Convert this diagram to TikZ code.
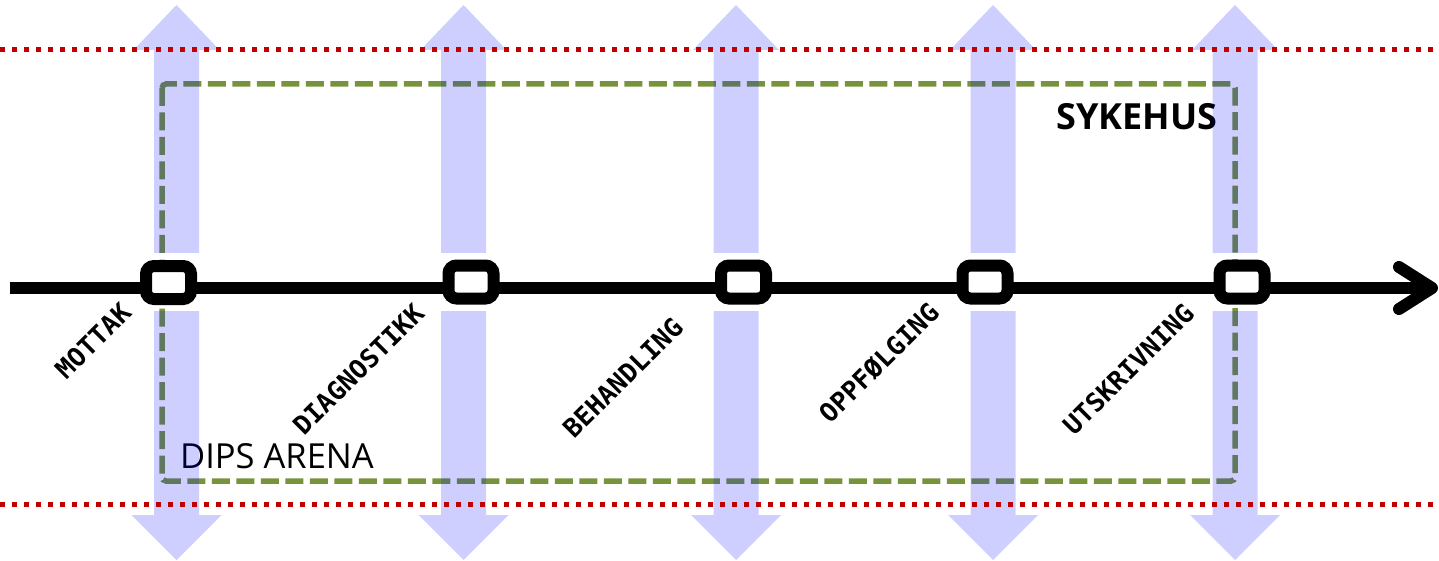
\documentclass[tikz,border=0pt]{standalone}
\usepackage{fontspec}
\newfontfamily\osans{Open Sans}
\newfontfamily\dmono{DejaVu Sans Mono}
\definecolor{dotred}{HTML}{C00000}
\definecolor{olivegreen}{HTML}{77933C}
\begin{document}
\begin{tikzpicture}[x=1pt,y=-1pt,
  redline/.style={draw=dotred, line width=5pt, dash pattern=on 5pt off 7pt},
  greenbox/.style={draw=olivegreen, line width=5.5pt, dash pattern=on 18pt off 6.5pt, rounded corners=4pt},
  bluearrow/.style={fill=blue, fill opacity=0.19, draw=none},
  timeline/.style={draw=black, line width=12pt},
  stepbox/.style={draw=black, line width=12pt, fill=white, rounded corners=8pt,
    minimum width=45pt, minimum height=33pt, inner sep=0pt},
  steplabel/.style={anchor=base east, rotate=45, inner sep=0pt,
    font=\dmono\bfseries\fontsize{26}{30}\selectfont},
  bigtext/.style={anchor=base west, inner sep=0pt, font=\osans\fontsize{34.5}{40}\selectfont},
  boldtext/.style={anchor=base west, inner sep=0pt, font=\osans\bfseries\fontsize{36}{42}\selectfont}
]
\useasboundingbox (0,0) rectangle (1439,561);

% green dashed frame (DIPS Arena)
\draw[greenbox] (162,84) rectangle (1235,481);

% texts
\node[boldtext] (sykehus) at (1056,130) {SYKEHUS};
\node[bigtext] (dips) at (180,468) {DIPS ARENA};

% blue double arrows
\foreach \cx in {176.5,463.5,736,993,1235}{
  \fill[bluearrow] (\cx-22.5,253) -- (\cx-22.5,50) -- (\cx-43,50) -- (\cx,5)
     -- (\cx+43,50) -- (\cx+22.5,50) -- (\cx+22.5,253) -- cycle;
  \fill[bluearrow] (\cx-22.5,311) -- (\cx-22.5,515) -- (\cx-45,515) -- (\cx,560)
     -- (\cx+45,515) -- (\cx+22.5,515) -- (\cx+22.5,311) -- cycle;
}

% red dotted lines
\coordinate (rtl) at (0,50);
\coordinate (rtr) at (1439,50);
\coordinate (rbl) at (0,504);
\coordinate (rbr) at (1439,504);
\draw[redline] (rtl) -- (rtr);
\draw[redline] (rbl) -- (rbr);

% timeline
\coordinate (tstart) at (10,288);
\coordinate (tend) at (1432,288);
\coordinate (hup) at (1399,267);
\coordinate (hdn) at (1399,309);
\draw[timeline] (tstart) -- (tend);
\draw[timeline, line cap=round, line join=round] (hup) -- (tend) -- (hdn);

% step boxes
\node[stepbox] (b1) at (168.5,282.5) {};
\node[stepbox] (b2) at (471,282) {};
\node[stepbox] (b3) at (743.5,282) {};
\node[stepbox] (b4) at (985,282) {};
\node[stepbox] (b5) at (1242,282) {};

% step labels
\node[steplabel] (l1) at (133,314) {MOTTAK};
\node[steplabel] (l2) at (426,315) {DIAGNOSTIKK};
\node[steplabel] (l3) at (685,329) {BEHANDLING};
\node[steplabel] (l4) at (941,314) {OPPFØLGING};
\node[steplabel] (l5) at (1196,315) {UTSKRIVNING};
\end{tikzpicture}
\end{document}
